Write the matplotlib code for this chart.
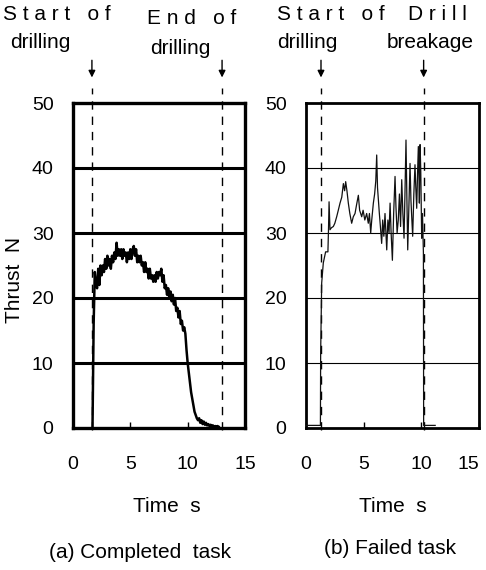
import matplotlib
matplotlib.use("Agg")
import matplotlib.pyplot as plt

plt.rcParams['font.family'] = ['Liberation Sans', 'DejaVu Sans']

# (a) completed task, thrust sampled every 0.1 s from 1.7 s
t_a_start = 1.7
thrust_a = [0, 16, 24, 22, 21.5, 24.5, 22, 25, 23.5, 25,
            24, 26, 24.5, 26.5, 25, 26, 24.5, 26.5, 25.5, 27,
            26, 28.5, 26.5, 27.5, 26.5, 27.5, 26, 27.5, 26.5, 27,
            25.5, 27, 26, 27.5, 26, 27.5, 28, 26.5, 27.5, 25.5,
            26.5, 25.5, 26.5, 25, 25.5, 24, 25.5, 24, 24.5, 23,
            24.5, 23, 23.5, 22.5, 23.5, 22.5, 24, 23, 24, 23.5,
            24.5, 22.5, 23.5, 21.5, 22, 20.5, 21.5, 20, 21, 19.5,
            20.5, 19, 20, 18, 18.5, 17, 18, 16, 16.5, 15,
            15.5, 14.5, 12, 10, 8.5, 7, 5.5, 4.5, 3.5, 2.5,
            2, 1.5, 1.2, 1.5, 0.8, 1.2, 0.6, 1, 0.5, 0.8,
            0.4, 0.6, 0.3, 0.5, 0.3, 0.4, 0.2, 0.3, 0.2, 0.3, 0.2]
time_a = [round(t_a_start + 0.1 * i, 2) for i in range(len(thrust_a))]

# (b) failed task
time_b = [0.0, 1.25, 1.27, 1.36, 1.5, 1.7, 1.9, 1.95, 2.0, 2.08, 2.2, 2.37,
          2.5, 2.66, 2.8, 2.95, 3.1, 3.24, 3.35, 3.44, 3.55, 3.67, 3.8, 3.96,
          4.1, 4.25, 4.4, 4.54, 4.65, 4.83, 4.95, 5.1, 5.26, 5.4, 5.5, 5.61,
          5.7, 5.84, 5.95, 6.05, 6.13, 6.2, 6.28, 6.36, 6.45, 6.56, 6.65, 6.75,
          6.85, 6.93, 7.0, 7.1, 7.2, 7.29, 7.38, 7.49, 7.6, 7.72, 7.8, 7.9,
          8.0, 8.1, 8.2, 8.3, 8.4, 8.5, 8.58, 8.67, 8.75, 8.82, 8.92, 9.02,
          9.1, 9.18, 9.25, 9.35, 9.45, 9.52, 9.6, 9.67, 9.74, 9.8, 9.83, 9.89,
          9.95, 10.03, 10.1, 10.18, 10.2, 11.2]
thrust_b = [0.4, 0.4, 11.5, 22.3, 25.4, 27.1, 27.1, 30.5, 34.8, 30.5, 30.8, 31,
            31.5, 32.5, 33.5, 34.6, 35.5, 37.6, 36.5, 37.9, 36.5, 34.6, 33, 31.5,
            32.5, 33, 34.5, 35.8, 33.5, 32.5, 33.5, 32, 33, 31.5, 33, 30,
            32, 34.6, 36, 38, 42, 37, 35, 33, 31, 28.4, 32, 29.5,
            33, 30, 27.4, 32, 30, 34.6, 30, 25.8, 33, 38.7, 34, 30,
            32, 36, 31, 38.2, 33, 29.2, 36, 44.3, 35, 27.4, 34, 40.7,
            35, 32, 29.5, 36, 40.5, 37, 33.8, 39, 43.3, 38, 34.6, 43.6,
            39.7, 29.2, 33, 26.9, 0.4, 0.4]

events_a = [1.65, 13.0]
events_b = [1.3, 10.2]
xticks = [0, 5, 10, 15]
yticks = [0, 10, 20, 30, 40, 50]

W, H = 486, 570
fig = plt.figure(figsize=(W / 100, H / 100), dpi=100)

def box(x0, y0, x1, y1):
    return [x0 / W, 1 - y1 / H, (x1 - x0) / W, (y1 - y0) / H]

ax_a = fig.add_axes(box(73, 103, 245, 428))
ax_b = fig.add_axes(box(306, 103, 479, 428))

for ax, grid_lw, spine_lw in [(ax_a, 2.2, 2.4), (ax_b, 0.8, 2.0)]:
    ax.set_xlim(0, 15)
    ax.set_ylim(0, 50)
    ax.set_xticks(xticks)
    ax.set_yticks(yticks)
    ax.tick_params(axis='x', direction='in', length=4, width=1, pad=20, labelsize=14)
    ax.tick_params(axis='y', length=0, pad=14, labelsize=14)
    for s in ax.spines.values():
        s.set_linewidth(spine_lw)
    for v in yticks[1:-1]:
        ax.axhline(v, color='black', lw=grid_lw, zorder=1)

# keep the last label of the right panel inside the picture
ax_b.get_xticklabels()[-1].set_horizontalalignment('right')

ax_a.plot(time_a, thrust_a, color='black', lw=1.8, zorder=3)
ax_b.plot(time_b, thrust_b, color='#111111', lw=0.9, zorder=3)

for ax, evs in [(ax_a, events_a), (ax_b, events_b)]:
    for t in evs:
        ax.axvline(t, ymin=-0.005, ymax=1.046, color='black', lw=1.0,
                   ls=(0, (6, 5)), clip_on=False, zorder=2)
        ax.annotate('', xy=(t, 1.07), xycoords=('data', 'axes fraction'),
                    xytext=(t, 1.14), textcoords=('data', 'axes fraction'),
                    arrowprops=dict(arrowstyle='-|>', color='black', lw=1.0,
                                    mutation_scale=10))

def ftext(x, y, s, **kw):
    fig.text(x / W, 1 - y / H, s, fontsize=15, va='center', **kw)

ftext(3, 15, 'S t a r t   o f', ha='left')
ftext(10, 43, 'drilling', ha='left')
ftext(147, 18, 'E n d   o f', ha='left')
ftext(150, 48, 'drilling', ha='left')
ftext(277, 15, 'S t a r t   o f', ha='left')
ftext(277, 43, 'drilling', ha='left')
ftext(408, 15, 'D r i l l', ha='left')
ftext(430, 43, 'breakage', ha='center')

ftext(15, 280, 'Thrust  N', ha='center', rotation=90)
ftext(167, 507, 'Time  s', ha='center')
ftext(393, 507, 'Time  s', ha='center')
ftext(140, 552, '(a) Completed  task', ha='center')
ftext(390, 549, '(b) Failed task', ha='center')

plt.savefig('out.png', dpi=100)
